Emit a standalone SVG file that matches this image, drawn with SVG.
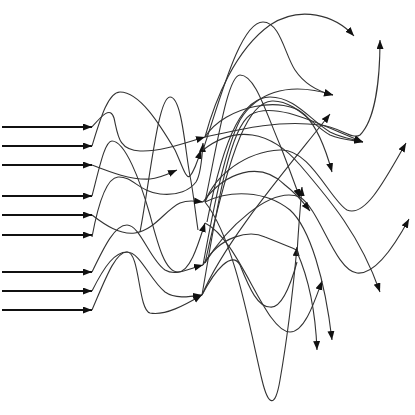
<svg xmlns="http://www.w3.org/2000/svg" width="415" height="415" viewBox="0 0 415 415">
<style>
.in{stroke:#111;stroke-width:1.8;fill:none}
.e{stroke:#333;stroke-width:1.1;fill:none}
</style>
<defs>
<marker id="a" markerWidth="10" markerHeight="8" refX="9" refY="3.5" orient="auto" markerUnits="userSpaceOnUse">
<path d="M0,0 L9,3.5 L0,7 z" fill="#111"/>
</marker>
</defs>
<rect width="415" height="415" fill="#fff"/>
<g id="inputs">
<path class="in" d="M2,127 H92" marker-end="url(#a)"/>
<path class="in" d="M2,146 H92" marker-end="url(#a)"/>
<path class="in" d="M2,165 H92" marker-end="url(#a)"/>
<path class="in" d="M2,196 H92" marker-end="url(#a)"/>
<path class="in" d="M2,215 H92" marker-end="url(#a)"/>
<path class="in" d="M2,235 H92" marker-end="url(#a)"/>
<path class="in" d="M2,272 H92" marker-end="url(#a)"/>
<path class="in" d="M2,291 H92" marker-end="url(#a)"/>
<path class="in" d="M2,310 H92" marker-end="url(#a)"/>
</g>
<g id="connectors">
<path class="e" d="M92,127 C100,118 110,105 114,118 C118,135 118,150 140,151 C160,152 185,143 205,137" marker-end="url(#a)"/>
<path class="e" d="M92,146 C100,120 108,92 120,92 C140,92 160,125 175,150 C182,165 186,180 190,176 C195,170 198,160 201,150" marker-end="url(#a)"/>
<path class="e" d="M92,165 C110,172 130,180 150,179 C160,178 170,173 177,170" marker-end="url(#a)"/>
<path class="e" d="M92,196 C100,165 105,141 112,141 C125,141 140,180 150,215 C158,245 165,272 178,272 C190,272 198,245 205,223" marker-end="url(#a)"/>
<path class="e" d="M92,237 C97,210 105,178 118,177 C132,176 140,192 160,194 C178,196 190,190 196,182 C200,176 202,160 203,143" marker-end="url(#a)"/>
<path class="e" d="M140,232 C150,180 158,97 170,97 C182,97 185,150 190,176 C193,190 195,210 198,230"/>
<path class="e" d="M92,215 C105,225 120,235 135,233 C155,230 165,210 180,203 C188,200 195,201 203,202" marker-end="url(#a)"/>
<path class="e" d="M92,272 C105,245 115,225 127,225 C140,225 150,260 165,270 C175,276 185,270 203,265" marker-end="url(#a)"/>
<path class="e" d="M92,291 C105,265 115,252 127,252 C140,252 150,280 165,292 C175,299 188,297 202,295" marker-end="url(#a)"/>
<path class="e" d="M92,310 C105,280 115,252 127,252 C140,252 138,310 150,313 C165,316 185,305 202,295" marker-end="url(#a)"/>
<path class="e" d="M205,137 C215,100 235,50 270,25 C300,5 335,15 354,36" marker-end="url(#a)"/>
<path class="e" d="M203,150 C220,100 240,22 263,22 C280,22 285,55 295,70 C305,85 320,92 333,95" marker-end="url(#a)"/>
<path class="e" d="M205,202 C218,140 228,75 240,75 C255,75 265,110 280,145 C288,165 295,185 300,198" marker-end="url(#a)"/>
<path class="e" d="M207,222 C225,130 245,97 270,97 C295,97 310,120 330,132 C342,138 352,139 363,142" marker-end="url(#a)"/>
<path class="e" d="M205,263 C232,140 250,102 272,101 C295,100 312,125 330,135 C342,140 352,140 363,142" marker-end="url(#a)"/>
<path class="e" d="M205,137 C245,128 280,120 320,125 C340,127 352,140 360,135 C375,120 380,80 380,40" marker-end="url(#a)"/>
<path class="e" d="M205,202 C215,175 245,152 280,150 C310,148 330,200 347,210 C365,218 385,180 406,143" marker-end="url(#a)"/>
<path class="e" d="M205,263 C225,230 270,185 300,197 C320,210 335,270 357,273 C375,275 395,245 409,219" marker-end="url(#a)"/>
<path class="e" d="M203,150 C235,125 270,130 300,165 C330,200 360,235 380,292" marker-end="url(#a)"/>
<path class="e" d="M202,295 C225,240 290,165 330,114" marker-end="url(#a)"/>
<path class="e" d="M205,137 C225,105 285,95 305,115 C318,128 326,150 332,172" marker-end="url(#a)"/>
<path class="e" d="M203,265 C220,235 250,230 265,237 C280,243 290,247 297,250"/>
<path class="e" d="M205,202 C235,240 250,330 262,380 C268,405 275,410 280,380 C287,340 293,290 297,247" marker-end="url(#a)"/>
<path class="e" d="M202,295 C215,270 232,250 240,265 C250,290 258,307 270,307 C283,309 292,280 297,262"/>
<path class="e" d="M205,223 C240,240 265,332 290,332 C305,332 315,300 322,281" marker-end="url(#a)"/>
<path class="e" d="M297,252 C305,270 315,300 317,350" marker-end="url(#a)"/>
<path class="e" d="M205,202 C230,190 265,190 290,210 C310,228 325,280 332,340" marker-end="url(#a)"/>
<path class="e" d="M297,255 C298,235 300,210 302,187" marker-end="url(#a)"/>
<path class="e" d="M203,202 C225,172 260,160 285,185 C298,195 303,202 310,211" marker-end="url(#a)"/>
<path class="e" d="M203,265 C215,200 225,150 240,120 C255,95 285,80 333,95" marker-end="url(#a)"/>
<path class="e" d="M202,295 C215,220 228,130 250,115 C275,100 320,125 363,142" marker-end="url(#a)"/>
</g>
</svg>
